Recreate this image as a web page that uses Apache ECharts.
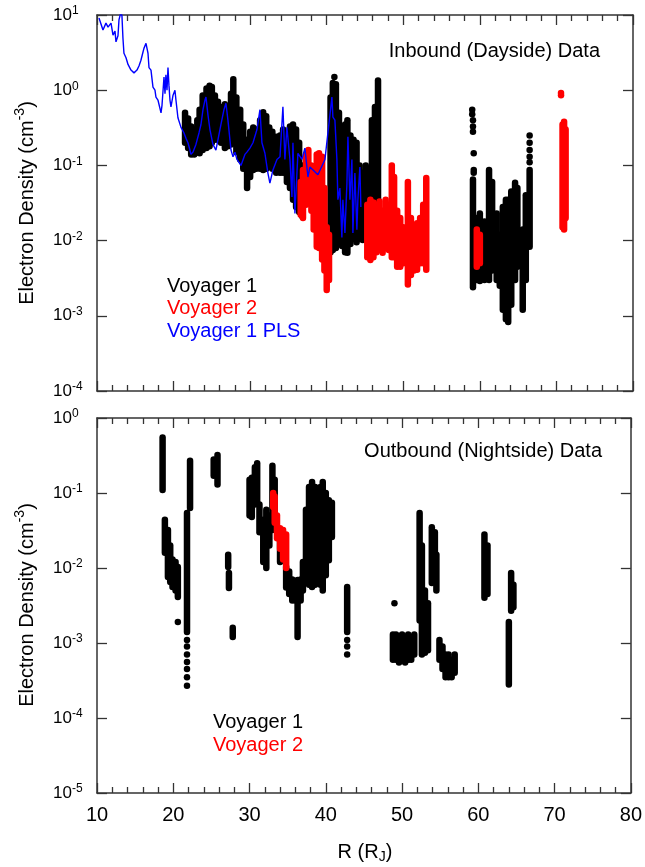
<!DOCTYPE html>
<html>
<head>
<meta charset="utf-8">
<title>Electron density</title>
<script src="https://cdn.jsdelivr.net/npm/echarts@6/dist/echarts.min.js"></script>
<style>
  html, body { margin: 0; padding: 0; background: #fff; }
  #chart { width: 645px; height: 867px; }
</style>
</head>
<body>
<div id="chart"></div>
<script>
// R in Jupiter radii, density in cm^-3
// strips are [R, low, high]: a dense run of points at one R, drawn as a band
// dots are [R, density]: single points

// --- inbound (dayside) ---
var v1InStrips = [
  [21.5, 0.20, 0.50], [21.9, 0.17, 0.42], [22.3, 0.14, 0.33], [22.7, 0.14, 0.30],
  [23.1, 0.15, 0.40], [23.4, 0.145, 0.55], [23.8, 0.16, 0.85], [24.3, 0.17, 1.05],
  [24.7, 0.18, 1.15], [25.0, 0.20, 1.10], [25.4, 0.22, 0.85], [25.8, 0.22, 0.70],
  [26.2, 0.20, 0.60], [26.7, 0.17, 0.65], [27.1, 0.18, 0.55], [27.5, 0.19, 0.90],
  [27.8, 0.20, 1.40], [28.2, 0.15, 0.80], [28.7, 0.12, 0.55], [29.1, 0.09, 0.35],
  [29.6, 0.05, 0.22], [30.0, 0.07, 0.28], [30.4, 0.087, 0.32], [30.8, 0.09, 0.30],
  [31.3, 0.09, 0.40], [31.7, 0.087, 0.51], [32.1, 0.09, 0.45], [32.5, 0.095, 0.32],
  [32.9, 0.09, 0.28], [33.4, 0.08, 0.24], [33.9, 0.08, 0.25], [34.3, 0.08, 0.30],
  [34.8, 0.06, 0.25], [35.2, 0.05, 0.33], [35.6, 0.035, 0.35], [36.0, 0.028, 0.30],
  [36.4, 0.024, 0.20], [36.8, 0.021, 0.10],
  [40.5, 0.007, 0.8], [40.8, 0.0075, 1.25], [41.2, 0.008, 1.2], [41.6, 0.009, 0.5],
  [42.0, 0.0085, 0.25], [42.4, 0.007, 0.35], [42.7, 0.0069, 0.40], [43.1, 0.009, 0.25],
  [43.5, 0.0105, 0.22], [43.9, 0.0095, 0.20], [44.3, 0.0105, 0.10], [44.7, 0.0102, 0.08],
  [45.1, 0.012, 0.10], [45.5, 0.015, 0.08], [45.9, 0.025, 0.40], [46.3, 0.03, 0.60],
  [46.7, 0.035, 1.35],
  [59.1, 0.0024, 0.065], [59.6, 0.003, 0.02], [60.0, 0.0029, 0.023], [60.6, 0.003, 0.018],
  [61.2, 0.003, 0.087], [61.6, 0.004, 0.06], [62.2, 0.003, 0.023], [62.6, 0.0025, 0.012],
  [63.0, 0.0012, 0.028], [63.4, 0.0009, 0.035], [63.7, 0.00083, 0.035], [64.1, 0.0014, 0.045],
  [64.6, 0.003, 0.059], [64.9, 0.0045, 0.05], [65.6, 0.0012, 0.014], [66.0, 0.003, 0.04],
  [66.5, 0.0083, 0.087]
];
var v1InDots = [
  [41.0, 1.5], [59.0, 0.55], [59.0, 0.48], [59.1, 0.40], [59.1, 0.33], [59.1, 0.28],
  [59.2, 0.145], [59.2, 0.087], [59.2, 0.08],
  [66.5, 0.25], [66.5, 0.20], [66.5, 0.16], [66.5, 0.13], [66.5, 0.11]
];
var v2InStrips = [
  [36.6, 0.022, 0.06], [36.9, 0.020, 0.087], [37.3, 0.03, 0.14], [37.6, 0.043, 0.16],
  [38.0, 0.025, 0.10], [38.3, 0.014, 0.08], [38.7, 0.0083, 0.14], [39.0, 0.008, 0.145],
  [39.4, 0.0056, 0.13], [39.7, 0.004, 0.05], [40.0, 0.0022, 0.015], [40.3, 0.003, 0.012],
  [45.3, 0.006, 0.03], [45.7, 0.0055, 0.035], [46.1, 0.006, 0.032], [46.5, 0.007, 0.03],
  [46.9, 0.0075, 0.033], [47.3, 0.0069, 0.025], [47.7, 0.008, 0.035], [48.1, 0.0075, 0.03],
  [48.5, 0.006, 0.10], [48.8, 0.006, 0.07], [49.2, 0.0045, 0.025], [49.6, 0.0045, 0.02],
  [50.0, 0.005, 0.015], [50.6, 0.0026, 0.06], [51.0, 0.0035, 0.02], [51.4, 0.004, 0.012],
  [51.8, 0.0041, 0.017], [52.2, 0.005, 0.02], [52.6, 0.005, 0.03], [53.0, 0.0041, 0.068],
  [59.6, 0.0045, 0.014], [60.0, 0.005, 0.012],
  [70.8, 0.015, 0.35], [71.0, 0.014, 0.38], [71.2, 0.02, 0.30]
];
var v2InDots = [[70.6, 0.86], [70.6, 0.92]];
var plsIn = [
  [10.26, 9.1], [10.78, 6.3], [11.17, 7.8], [11.44, 6.9], [11.83, 7.8], [12.09, 5.4],
  [12.35, 6.1], [12.48, 4.4], [12.74, 5.3], [12.87, 8.6], [13.13, 11], [13.26, 9.7],
  [13.39, 4.9], [13.52, 3.1], [13.79, 2.7], [14.05, 2.2], [14.44, 1.85], [14.83, 1.7],
  [15.22, 1.85], [15.48, 2.1], [15.74, 2.5], [16.0, 3.2], [16.13, 3.6], [16.4, 4.2],
  [16.53, 3.6], [16.66, 3.1], [16.79, 2.0], [17.05, 1.85], [17.31, 1.1], [17.57, 1.0],
  [17.7, 0.81], [17.96, 0.74], [18.1, 0.78], [18.36, 0.50], [18.49, 0.63], [18.75, 1.5],
  [18.88, 0.9], [19.0, 1.6], [19.14, 1.0], [19.27, 2.0], [19.4, 1.15], [19.53, 0.74],
  [19.66, 0.60], [19.92, 0.85], [20.18, 1.0], [20.31, 0.74], [20.57, 0.43], [20.97, 0.32],
  [21.36, 0.27], [21.62, 0.23], [21.88, 0.20], [22.14, 0.16], [22.27, 0.14], [22.53, 0.15],
  [22.92, 0.19], [23.32, 0.27], [23.58, 0.35], [23.84, 0.55], [24.1, 0.74], [24.23, 0.81],
  [24.49, 0.47], [24.75, 0.30], [25.14, 0.19], [25.53, 0.16], [25.8, 0.22], [26.19, 0.35],
  [26.58, 0.55], [26.84, 0.67], [27.1, 0.40], [27.36, 0.22], [27.5, 0.16], [27.76, 0.13],
  [28.02, 0.15], [28.28, 0.12], [28.54, 0.11], [28.8, 0.10], [28.93, 0.095], [29.32, 0.14],
  [29.58, 0.15], [29.97, 0.17], [30.37, 0.20], [30.89, 0.30], [31.28, 0.55], [31.54, 0.20],
  [31.93, 0.145], [32.32, 0.079], [32.58, 0.058], [32.98, 0.087], [33.5, 0.12], [33.9, 0.13],
  [34.28, 0.60], [34.54, 0.12], [34.8, 0.32], [35.2, 0.12], [35.46, 0.038], [35.59, 0.20],
  [35.85, 0.023], [36.24, 0.145], [36.76, 0.12], [37.15, 0.17], [37.55, 0.07], [37.81, 0.095],
  [38.85, 0.075], [39.77, 0.12], [40.68, 0.81], [40.81, 0.44], [41.07, 0.40], [41.33, 0.12],
  [41.46, 0.035], [41.72, 0.05], [41.98, 0.011], [42.11, 0.035], [42.38, 0.0126], [42.64, 0.058],
  [42.77, 0.24], [43.03, 0.035], [43.29, 0.12], [43.42, 0.0126], [43.68, 0.079], [43.94, 0.014],
  [44.07, 0.035], [44.33, 0.095], [44.46, 0.028]
];

// --- outbound (nightside) ---
var v1OutStrips = [
  [18.6, 0.11, 0.55], [18.9, 0.016, 0.044], [19.3, 0.0076, 0.032], [19.6, 0.0065, 0.02],
  [19.9, 0.0056, 0.013], [20.3, 0.005, 0.012], [20.6, 0.0041, 0.0103],
  [21.8, 0.0014, 0.054], [22.2, 0.063, 0.27],
  [25.3, 0.17, 0.28], [25.8, 0.13, 0.32],
  [27.2, 0.0103, 0.015], [27.3, 0.0054, 0.0086], [27.8, 0.0012, 0.0016],
  [30.0, 0.05, 0.15], [30.3, 0.048, 0.16], [30.7, 0.07, 0.22], [31.0, 0.074, 0.25],
  [31.3, 0.03, 0.07], [31.8, 0.012, 0.044], [32.2, 0.01, 0.06], [32.6, 0.02, 0.05],
  [33.0, 0.032, 0.23], [33.3, 0.04, 0.15], [34.0, 0.012, 0.03], [34.8, 0.0055, 0.0103],
  [35.2, 0.0045, 0.009], [35.6, 0.0037, 0.007], [36.0, 0.0037, 0.006], [36.3, 0.0012, 0.0069],
  [36.7, 0.0037, 0.007], [37.0, 0.005, 0.012], [37.4, 0.007, 0.06], [37.8, 0.006, 0.12],
  [38.2, 0.0056, 0.14], [38.6, 0.006, 0.12], [38.9, 0.008, 0.10], [39.3, 0.006, 0.12],
  [39.6, 0.005, 0.14], [40.0, 0.008, 0.10], [40.4, 0.0127, 0.08], [40.8, 0.026, 0.074],
  [42.8, 0.0014, 0.0056],
  [48.8, 0.0006, 0.0013], [49.2, 0.0006, 0.0013], [49.6, 0.00055, 0.0012], [50.0, 0.0006, 0.0013],
  [50.4, 0.00055, 0.0012], [50.8, 0.0006, 0.0013], [51.2, 0.0006, 0.0012], [51.6, 0.0007, 0.0013],
  [52.3, 0.002, 0.054], [52.6, 0.0007, 0.02], [53.0, 0.00074, 0.005], [53.4, 0.0008, 0.0034],
  [53.9, 0.0063, 0.035], [54.3, 0.009, 0.03], [54.5, 0.005, 0.015],
  [54.9, 0.0006, 0.0011], [55.3, 0.00045, 0.0009], [55.7, 0.00035, 0.0007], [56.1, 0.00035, 0.0007],
  [56.5, 0.00035, 0.0006], [56.9, 0.0004, 0.0007],
  [60.8, 0.004, 0.028], [61.2, 0.0045, 0.02],
  [64.0, 0.00028, 0.0019], [64.3, 0.0027, 0.0086], [64.6, 0.003, 0.006]
];
var v1OutDots = [
  [20.6, 0.0019], [21.8, 0.0011], [21.8, 0.0009], [21.8, 0.0007], [21.8, 0.00056],
  [21.8, 0.00045], [21.8, 0.00035], [21.8, 0.00027],
  [42.8, 0.0011], [42.8, 0.0009], [42.8, 0.0007], [49.0, 0.0034]
];
var v2OutStrips = [
  [33.1, 0.065, 0.10], [33.3, 0.04, 0.09], [33.6, 0.025, 0.05], [34.0, 0.018, 0.034],
  [34.4, 0.013, 0.032], [34.8, 0.010, 0.028]
];

var xTicks = [10, 20, 30, 40, 50, 60, 70, 80];

var frame = '#333';
var font = '"Liberation Sans", Arial, Helvetica, sans-serif';
var stripW = 6.5;

var chart = echarts.init(document.getElementById('chart'));

// a strip is a capsule: rounded rect from low to high at one R
function stripSeries(data, color, gi) {
  return {
    type: 'custom',
    xAxisIndex: gi * 2,
    yAxisIndex: gi * 2,
    data: data,
    clip: true,
    silent: true,
    encode: { x: 0, y: [1, 2] },
    renderItem: function (params, api) {
      var lo = api.coord([api.value(0), api.value(1)]);
      var hi = api.coord([api.value(0), api.value(2)]);
      var r = stripW / 2;
      return {
        type: 'rect',
        shape: { x: lo[0] - r, y: hi[1] - r, width: stripW, height: lo[1] - hi[1] + stripW, r: r },
        style: { fill: color }
      };
    }
  };
}

function dotSeries(data, color, gi) {
  return {
    type: 'scatter',
    xAxisIndex: gi * 2,
    yAxisIndex: gi * 2,
    data: data,
    symbolSize: 6.5,
    silent: true,
    itemStyle: { color: color, opacity: 1 }
  };
}

function xAxes(gi) {
  var list = [];
  ['bottom', 'top'].forEach(function (pos) {
    list.push({
      gridIndex: gi,
      type: 'value',
      position: pos,
      min: xTicks[0],
      max: xTicks[xTicks.length - 1],
      interval: 10,
      axisLine: { show: true, onZero: false, lineStyle: { color: frame, width: 1.5 } },
      axisTick: { inside: true, length: 10, lineStyle: { color: frame, width: 1.3 } },
      minorTick: { show: true, splitNumber: 5, length: 6, lineStyle: { color: frame, width: 1.3 } },
      splitLine: { show: false },
      axisLabel: {
        show: gi === 1 && pos === 'bottom',
        fontSize: 20, fontFamily: font, color: '#000', margin: 12
      }
    });
  });
  return list;
}

function yAxes(gi, min, max) {
  var list = [];
  ['left', 'right'].forEach(function (pos) {
    list.push({
      gridIndex: gi,
      type: 'log',
      logBase: 10,
      position: pos,
      min: min,
      max: max,
      splitNumber: 5,
      axisLine: { show: true, lineStyle: { color: frame, width: 1.5 } },
      axisTick: { inside: true, length: 10, lineStyle: { color: frame, width: 1.3 } },
      splitLine: { show: false },
      axisLabel: {
        show: pos === 'left',
        margin: 44,
        align: 'left',
        formatter: function (v) {
          var e = Math.round(Math.log(v) / Math.LN10);
          return '{b|10}{s|' + e + '}';
        },
        rich: {
          b: { fontSize: 17, lineHeight: 20, fontFamily: font, color: '#000' },
          s: { fontSize: 12, lineHeight: 10, verticalAlign: 'top', fontFamily: font, color: '#000' }
        }
      }
    });
  });
  return list;
}

function label(text, x, y, color, align) {
  return {
    type: 'text', x: x, y: y, silent: true,
    style: {
      text: text, fill: color, font: '20px ' + font,
      textAlign: align || 'left', textVerticalAlign: 'middle'
    }
  };
}

function yTitle(y) {
  return {
    type: 'text', x: 27, y: y, rotation: Math.PI / 2, silent: true,
    style: {
      text: '{m|Electron Density (cm}{s|-3}{m|)}',
      textAlign: 'center', textVerticalAlign: 'middle',
      rich: {
        m: { fontSize: 20, lineHeight: 28, fontFamily: font, fill: '#000' },
        s: { fontSize: 14, lineHeight: 12, verticalAlign: 'top', fontFamily: font, fill: '#000' }
      }
    }
  };
}

chart.setOption({
  animation: false,
  backgroundColor: '#fff',
  grid: [
    { left: 97, top: 15, width: 536, height: 376 },
    { left: 97, top: 418, width: 536, height: 375 }
  ],
  xAxis: xAxes(0).concat(xAxes(1)),
  yAxis: yAxes(0, 1e-4, 10).concat(yAxes(1, 1e-5, 1)),
  graphic: [
    label('Inbound (Dayside) Data', 600, 51, '#000', 'right'),
    label('Voyager 1', 167, 286, '#000'),
    label('Voyager 2', 167, 308, '#ff0000'),
    label('Voyager 1 PLS', 167, 331, '#0000ff'),
    label('Outbound (Nightside) Data', 602, 451, '#000', 'right'),
    label('Voyager 1', 213, 722, '#000'),
    label('Voyager 2', 213, 745, '#ff0000'),
    yTitle(203),
    yTitle(605),
    {
      type: 'text', x: 365, y: 852, silent: true,
      style: {
        text: '{m|R (R}{u|J}{m|)}',
        textAlign: 'center', textVerticalAlign: 'middle',
        rich: {
          m: { fontSize: 20, lineHeight: 24, fontFamily: font, fill: '#000' },
          u: { fontSize: 14, lineHeight: 12, verticalAlign: 'bottom', fontFamily: font, fill: '#000' }
        }
      }
    }
  ],
  series: [
    stripSeries(v1InStrips, '#000', 0),
    dotSeries(v1InDots, '#000', 0),
    {
      type: 'line',
      xAxisIndex: 0,
      yAxisIndex: 0,
      data: plsIn,
      showSymbol: false,
      clip: true,
      silent: true,
      lineStyle: { color: '#0000ff', width: 1.4 }
    },
    stripSeries(v2InStrips, '#ff0000', 0),
    dotSeries(v2InDots, '#ff0000', 0),
    stripSeries(v1OutStrips, '#000', 1),
    dotSeries(v1OutDots, '#000', 1),
    stripSeries(v2OutStrips, '#ff0000', 1)
  ]
});
</script>
</body>
</html>
